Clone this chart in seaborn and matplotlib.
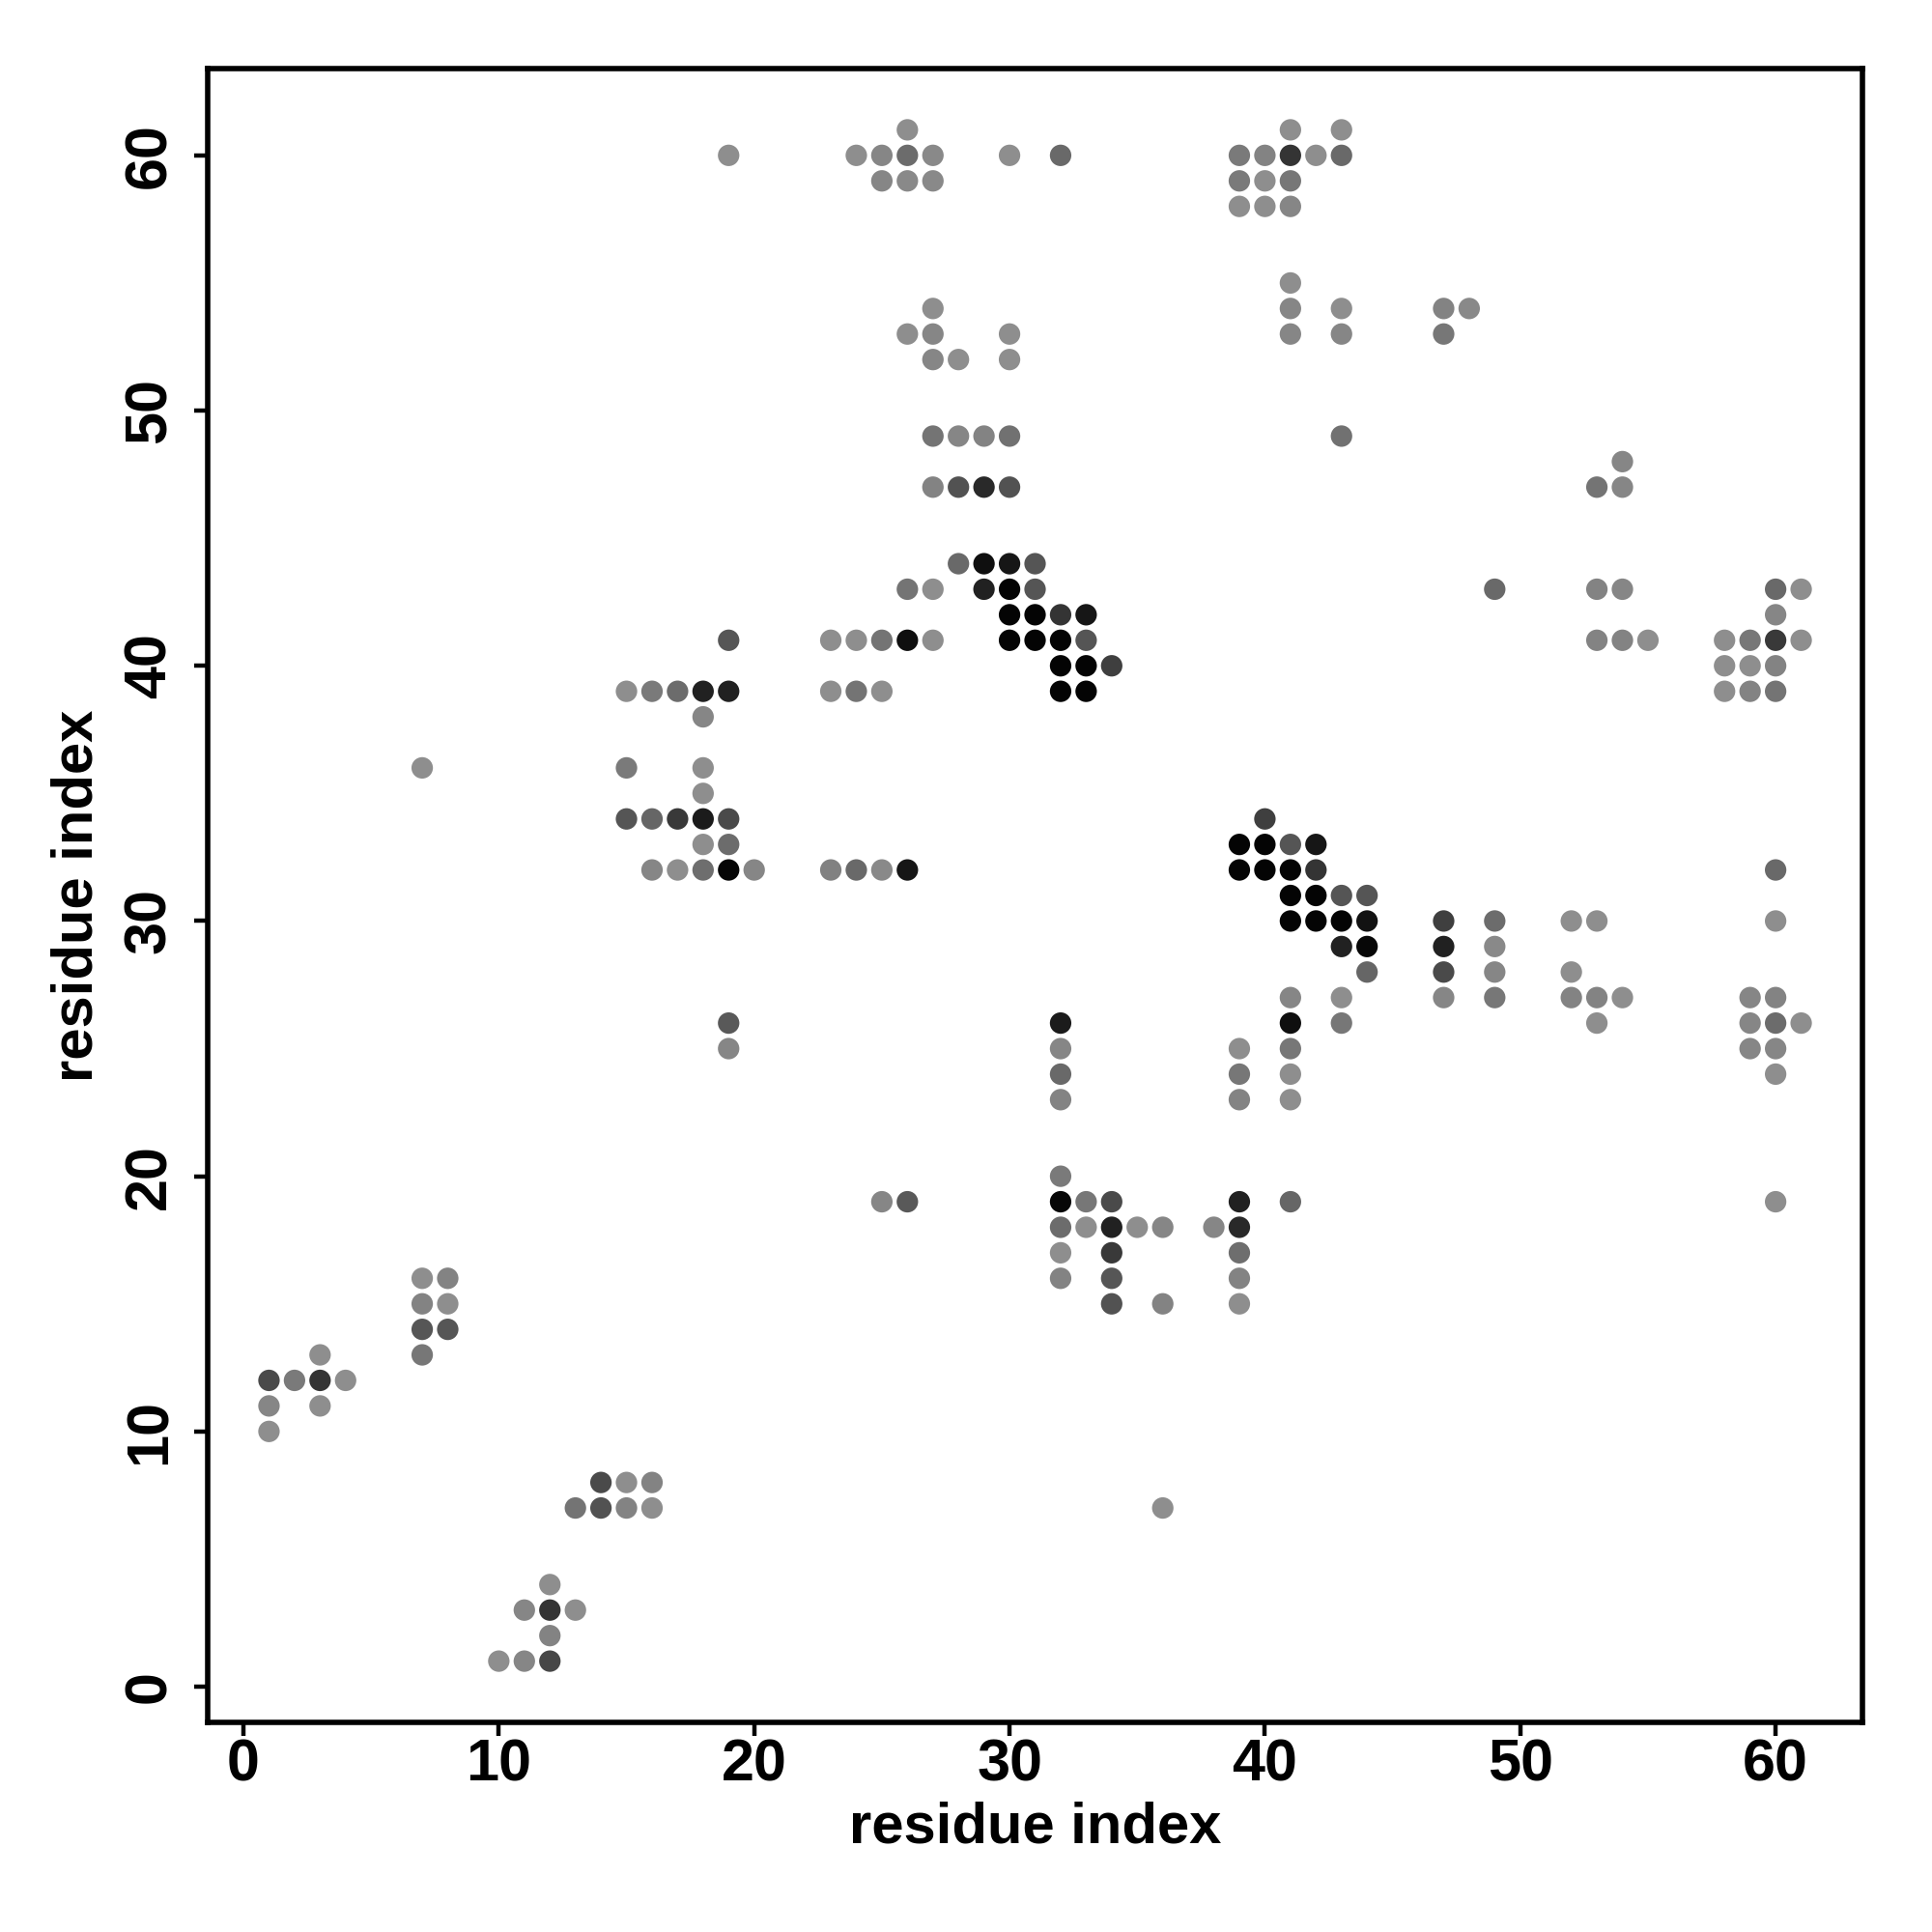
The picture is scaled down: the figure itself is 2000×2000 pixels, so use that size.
import numpy as np
import pandas as pd
import matplotlib.pyplot as plt
import seaborn as sns
from matplotlib.colors import LinearSegmentedColormap

# Contact map: residue pairs (i, j) and contact strength (0 = weak, 1 = strong)
res_i = [
    26, 41, 43,                                          # j=61
    19, 24, 25, 26, 27, 30, 32, 39, 40, 41, 42, 43,      # j=60
    25, 26, 27, 39, 40, 41,                              # j=59
    39, 40, 41,                                          # j=58
    41,                                                  # j=55
    27, 41, 43, 47, 48,                                  # j=54
    26, 27, 30, 41, 43, 47,                              # j=53
    27, 28, 30,                                          # j=52
    27, 28, 29, 30, 43,                                  # j=49
    54,                                                  # j=48
    27, 28, 29, 30, 53, 54,                              # j=47
    28, 29, 30, 31,                                      # j=44
    26, 27, 29, 30, 31, 49, 53, 54, 60, 61,              # j=43
    30, 31, 32, 33, 60,                                  # j=42
    19, 23, 24, 25, 26, 27, 30, 31, 32, 33, 53, 54, 55, 58, 59, 60, 61,  # j=41
    32, 33, 34, 58, 59, 60,                              # j=40
    15, 16, 17, 18, 19, 23, 24, 25, 32, 33, 58, 59, 60,  # j=39
    18,                                                  # j=38
    7, 15, 18,                                           # j=36
    18,                                                  # j=35
    15, 16, 17, 18, 19, 40,                              # j=34
    18, 19, 39, 40, 41, 42,                              # j=33
    16, 17, 18, 19, 20, 23, 24, 25, 26, 39, 40, 41, 42, 60,  # j=32
    41, 42, 43, 44,                                      # j=31
    41, 42, 43, 44, 47, 49, 52, 53, 60,                  # j=30
    43, 44, 47, 49,                                      # j=29
    44, 47, 49, 52,                                      # j=28
    41, 43, 47, 49, 52, 53, 54, 59, 60,                  # j=27
    19, 32, 41, 43, 53, 59, 60, 61,                      # j=26
    19, 32, 39, 41, 59, 60,                              # j=25
    32, 39, 41, 60,                                      # j=24
    32, 39, 41,                                          # j=23
    32,                                                  # j=20
    25, 26, 32, 33, 34, 39, 41, 60,                      # j=19
    32, 33, 34, 35, 36, 38, 39,                          # j=18
    32, 34, 39,                                          # j=17
    7, 8, 32, 34, 39,                                    # j=16
    7, 8, 34, 36, 39,                                    # j=15
    7, 8,                                                # j=14
    3, 7,                                                # j=13
    1, 2, 3, 4,                                          # j=12
    1, 3,                                                # j=11
    1,                                                   # j=10
    14, 15, 16,                                          # j=8
    13, 14, 15, 16, 36,                                  # j=7
    12,                                                  # j=4
    11, 12, 13,                                          # j=3
    12,                                                  # j=2
    10, 11, 12,                                          # j=1
]
res_j = [
    61, 61, 61,
    60, 60, 60, 60, 60, 60, 60, 60, 60, 60, 60, 60,
    59, 59, 59, 59, 59, 59,
    58, 58, 58,
    55,
    54, 54, 54, 54, 54,
    53, 53, 53, 53, 53, 53,
    52, 52, 52,
    49, 49, 49, 49, 49,
    48,
    47, 47, 47, 47, 47, 47,
    44, 44, 44, 44,
    43, 43, 43, 43, 43, 43, 43, 43, 43, 43,
    42, 42, 42, 42, 42,
    41, 41, 41, 41, 41, 41, 41, 41, 41, 41, 41, 41, 41, 41, 41, 41, 41,
    40, 40, 40, 40, 40, 40,
    39, 39, 39, 39, 39, 39, 39, 39, 39, 39, 39, 39, 39,
    38,
    36, 36, 36,
    35,
    34, 34, 34, 34, 34, 34,
    33, 33, 33, 33, 33, 33,
    32, 32, 32, 32, 32, 32, 32, 32, 32, 32, 32, 32, 32, 32,
    31, 31, 31, 31,
    30, 30, 30, 30, 30, 30, 30, 30, 30,
    29, 29, 29, 29,
    28, 28, 28, 28,
    27, 27, 27, 27, 27, 27, 27, 27, 27,
    26, 26, 26, 26, 26, 26, 26, 26,
    25, 25, 25, 25, 25, 25,
    24, 24, 24, 24,
    23, 23, 23,
    20,
    19, 19, 19, 19, 19, 19, 19, 19,
    18, 18, 18, 18, 18, 18, 18,
    17, 17, 17,
    16, 16, 16, 16, 16,
    15, 15, 15, 15, 15,
    14, 14,
    13, 13,
    12, 12, 12, 12,
    11, 11,
    10,
    8, 8, 8,
    7, 7, 7, 7, 7,
    4,
    3, 3, 3,
    2,
    1, 1, 1,
]
contact = [
    0.05, 0.05, 0.05,
    0.05, 0.05, 0.10, 0.28, 0.08, 0.05, 0.30, 0.18, 0.12, 0.65, 0.05, 0.30,
    0.10, 0.08, 0.08, 0.18, 0.05, 0.20,
    0.05, 0.05, 0.10,
    0.05,
    0.05, 0.10, 0.05, 0.12, 0.08,
    0.05, 0.10, 0.05, 0.10, 0.10, 0.20,
    0.10, 0.05, 0.05,
    0.22, 0.10, 0.12, 0.24, 0.24,
    0.10,
    0.12, 0.45, 0.72, 0.45, 0.22, 0.10,
    0.30, 0.90, 0.85, 0.43,
    0.22, 0.05, 0.78, 0.97, 0.43, 0.30, 0.12, 0.10, 0.30, 0.05,
    0.97, 0.97, 0.65, 0.85, 0.10,
    0.42, 0.05, 0.05, 0.22, 0.90, 0.05, 0.97, 0.97, 0.97, 0.43, 0.12, 0.12, 0.05, 0.05, 0.20, 0.62, 0.05,
    0.97, 0.97, 0.58, 0.05, 0.05, 0.12,
    0.05, 0.18, 0.28, 0.78, 0.78, 0.05, 0.22, 0.05, 0.97, 0.97, 0.05, 0.12, 0.22,
    0.10,
    0.05, 0.18, 0.05,
    0.05,
    0.43, 0.32, 0.62, 0.82, 0.50, 0.58,
    0.05, 0.28, 0.97, 0.97, 0.43, 0.85,
    0.10, 0.05, 0.26, 0.96, 0.10, 0.14, 0.30, 0.08, 0.85, 0.97, 0.97, 0.97, 0.65, 0.30,
    0.97, 0.97, 0.43, 0.43,
    0.97, 0.97, 0.97, 0.88, 0.58, 0.28, 0.05, 0.05, 0.05,
    0.78, 0.95, 0.78, 0.08,
    0.32, 0.50, 0.10, 0.05,
    0.10, 0.05, 0.10, 0.20, 0.12, 0.12, 0.05, 0.10, 0.12,
    0.40, 0.82, 0.90, 0.20, 0.05, 0.10, 0.28, 0.05,
    0.10, 0.10, 0.05, 0.20, 0.10, 0.10,
    0.30, 0.20, 0.05, 0.05,
    0.12, 0.12, 0.05,
    0.18,
    0.10, 0.40, 0.95, 0.20, 0.50, 0.78, 0.32, 0.05,
    0.28, 0.05, 0.78, 0.05, 0.10, 0.10, 0.72,
    0.05, 0.62, 0.26,
    0.05, 0.12, 0.12, 0.42, 0.12,
    0.12, 0.05, 0.45, 0.12, 0.05,
    0.42, 0.42,
    0.05, 0.20,
    0.50, 0.18, 0.65, 0.05,
    0.10, 0.05,
    0.05,
    0.50, 0.05, 0.12,
    0.22, 0.45, 0.12, 0.05, 0.05,
    0.05,
    0.10, 0.65, 0.05,
    0.12,
    0.05, 0.10, 0.52,
]

df = pd.DataFrame({'i': res_i, 'j': res_j, 'contact': contact})

# Grey ramp: weak contacts light grey, strong ones black
grey_cmap = LinearSegmentedColormap.from_list('contact_grey', ['#959595', '#000000'])

plt.rcParams['font.family'] = ['Liberation Sans', 'DejaVu Sans']

fig = plt.figure(figsize=(10, 10), dpi=200)
ax = fig.add_axes([0.1075, 0.1085, 0.8565, 0.856])
sns.scatterplot(data=df, x='i', y='j', hue='contact', palette=grey_cmap, hue_norm=(0, 1),
                s=64, linewidth=0, legend=False, ax=ax)

ax.set_xlim(-1.4, 63.4)
ax.set_ylim(-1.4, 63.4)
ax.set_xticks(np.arange(0, 61, 10))
ax.set_yticks(np.arange(0, 61, 10))
for spine in ax.spines.values():
    spine.set_linewidth(2.0)
ax.tick_params(axis='both', length=5, width=1.6, labelsize=22)
ax.tick_params(axis='x', pad=1)
ax.tick_params(axis='y', pad=6)
for lab in ax.get_xticklabels():
    lab.set_fontweight('bold')
for lab in ax.get_yticklabels():
    lab.set_fontweight('bold')
    lab.set_rotation(90)
    lab.set_va('center')

ax.set_xlabel('residue index', fontsize=21.5, fontweight='bold', labelpad=3)
ax.set_ylabel('residue index', fontsize=21.5, fontweight='bold', labelpad=7)

fig.savefig('out.png', dpi=200)
